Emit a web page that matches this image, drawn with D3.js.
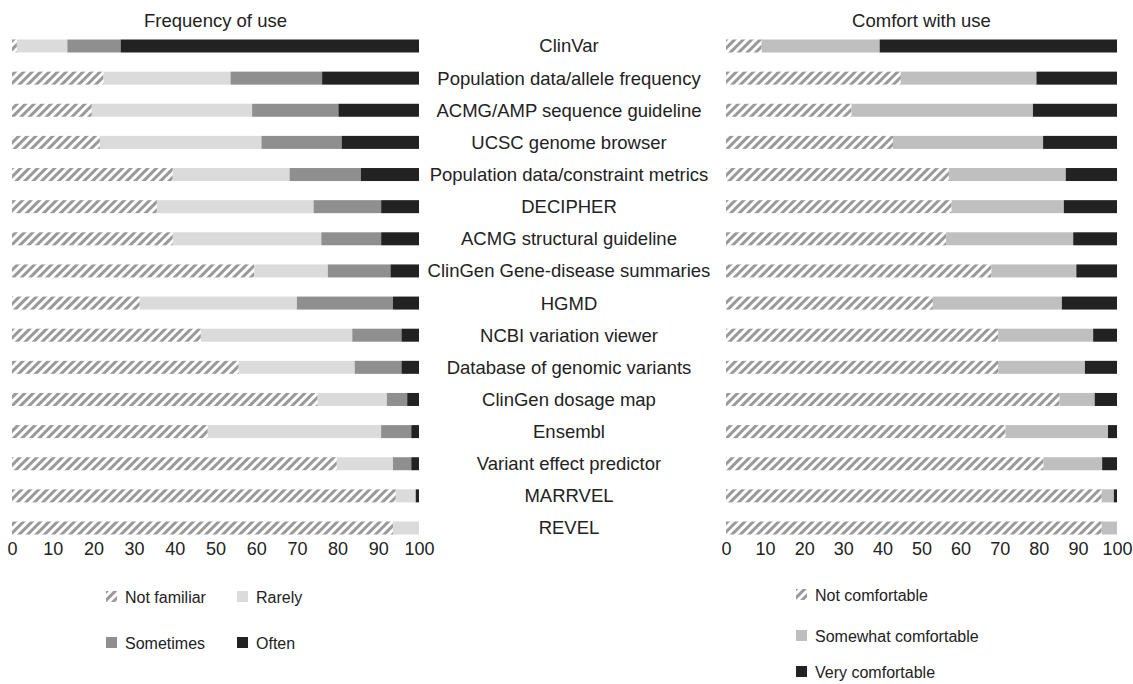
<!DOCTYPE html>
<html>
<head>
<meta charset="utf-8">
<script src="https://cdn.jsdelivr.net/npm/d3@7"></script>
<style>
  body { margin: 0; background: #fff; }
  text { font-family: "Liberation Sans", Arial, sans-serif; fill: #222; }
</style>
</head>
<body>
<svg id="chart" width="1133" height="684"></svg>
<script>
const categories = ["ClinVar", "Population data/allele frequency", "ACMG/AMP sequence guideline",
  "UCSC genome browser", "Population data/constraint metrics", "DECIPHER", "ACMG structural guideline",
  "ClinGen Gene-disease summaries", "HGMD", "NCBI variation viewer", "Database of genomic variants",
  "ClinGen dosage map", "Ensembl", "Variant effect predictor", "MARRVEL", "REVEL"];

// frequency of use (%)
const freqNotFamiliar = [1.2, 22.5, 19.6, 21.6, 39.5, 35.6, 39.5, 59.5, 31.4, 46.4, 55.7, 75.1, 48.1, 79.8, 94.3, 93.6];
const freqRarely      = [12.4, 31.2, 39.4, 39.7, 28.7, 38.5, 36.5, 18.1, 38.6, 37.2, 28.5, 17.0, 42.6, 13.8, 4.9, 6.4];
const freqSometimes   = [13.1, 22.5, 21.2, 19.7, 17.5, 16.6, 14.7, 15.4, 23.6, 12.1, 11.5, 5.0, 7.4, 4.5, 0, 0];
const freqOften       = [73.3, 23.8, 19.8, 19.0, 14.3, 9.3, 9.3, 7.0, 6.4, 4.3, 4.3, 2.9, 1.9, 1.9, 0.8, 0];

// comfort with use (%)
const comfortNot      = [9.1, 44.7, 32.1, 42.7, 57.0, 57.7, 56.3, 67.9, 52.9, 69.6, 69.6, 85.3, 71.5, 81.2, 96.1, 96.1];
const comfortSomewhat = [30.2, 34.7, 46.4, 38.4, 29.9, 28.7, 32.5, 21.7, 33.0, 24.3, 22.2, 9.0, 26.2, 15.0, 3.1, 3.9];
const comfortVery     = [60.7, 20.6, 21.5, 18.9, 13.1, 13.6, 11.2, 10.4, 14.1, 6.1, 8.2, 5.7, 2.3, 3.8, 0.8, 0];

const xTicks = [0, 10, 20, 30, 40, 50, 60, 70, 80, 90, 100];
const freqKeys = ["Not familiar", "Rarely", "Sometimes", "Often"];
const comfortKeys = ["Not comfortable", "Somewhat comfortable", "Very comfortable"];

const svg = d3.select("#chart");

const defs = svg.append("defs");
const pat = defs.append("pattern")
  .attr("id", "hatch")
  .attr("patternUnits", "userSpaceOnUse")
  .attr("width", 6).attr("height", 6)
  .attr("patternTransform", "rotate(45)");
pat.append("rect").attr("width", 6).attr("height", 6).attr("fill", "#fff");
pat.append("rect").attr("width", 3).attr("height", 6).attr("fill", "#999");

const y = d3.scalePoint().domain(categories).range([46, 528]);
const barH = 13;

function drawPanel(opts) {
  const x = d3.scaleLinear().domain([0, 100]).range(opts.range);
  const rows = categories.map((c, i) => {
    const r = { cat: c };
    opts.keys.forEach((k, j) => r[k] = opts.series[j][i]);
    return r;
  });
  const stacked = d3.stack().keys(opts.keys)(rows);
  const color = d3.scaleOrdinal().domain(opts.keys).range(opts.colors);

  const g = svg.append("g");
  g.selectAll("g.layer")
    .data(stacked)
    .join("g")
    .attr("class", "layer")
    .attr("fill", d => color(d.key))
    .selectAll("rect")
    .data(d => d)
    .join("rect")
    .attr("x", d => x(d[0]))
    .attr("y", d => y(d.data.cat) - barH / 2)
    .attr("width", d => Math.max(0, x(d[1]) - x(d[0])))
    .attr("height", barH);

  const axis = svg.append("g")
    .attr("transform", "translate(0,536)")
    .call(d3.axisBottom(x).tickValues(xTicks).tickSize(0).tickPadding(6));
  axis.select(".domain").remove();
  axis.selectAll("text").style("font-size", "18px").style("font-family", "Liberation Sans, Arial, sans-serif").attr("fill", "#222");

  svg.append("text")
    .attr("x", (opts.range[0] + opts.range[1]) / 2)
    .attr("y", 27)
    .attr("text-anchor", "middle")
    .style("font-size", "18.5px")
    .text(opts.title);

  const leg = svg.append("g");
  opts.legend.forEach((p, i) => {
    const k = opts.keys[i];
    leg.append("rect")
      .attr("x", p[0]).attr("y", p[1] - 6)
      .attr("width", 11).attr("height", 11)
      .attr("fill", color(k));
    leg.append("text")
      .attr("x", p[0] + 19).attr("y", p[1])
      .attr("dy", "0.35em")
      .style("font-size", "16px")
      .text(k);
  });
}

drawPanel({
  range: [12, 419],
  keys: freqKeys,
  series: [freqNotFamiliar, freqRarely, freqSometimes, freqOften],
  colors: ["url(#hatch)", "#dbdbdb", "#8f8f8f", "#222222"],
  title: "Frequency of use",
  legend: [[106, 597], [237, 597], [106, 643], [237, 643]]
});

drawPanel({
  range: [726, 1117],
  keys: comfortKeys,
  series: [comfortNot, comfortSomewhat, comfortVery],
  colors: ["url(#hatch)", "#bfbfbf", "#222222"],
  title: "Comfort with use",
  legend: [[796, 595], [796, 636], [796, 672]]
});

// category labels in the middle
svg.append("g")
  .selectAll("text")
  .data(categories)
  .join("text")
  .attr("x", 569)
  .attr("y", d => y(d))
  .attr("dy", "0.35em")
  .attr("text-anchor", "middle")
  .style("font-size", "18.5px")
  .text(d => d);
</script>
</body>
</html>
